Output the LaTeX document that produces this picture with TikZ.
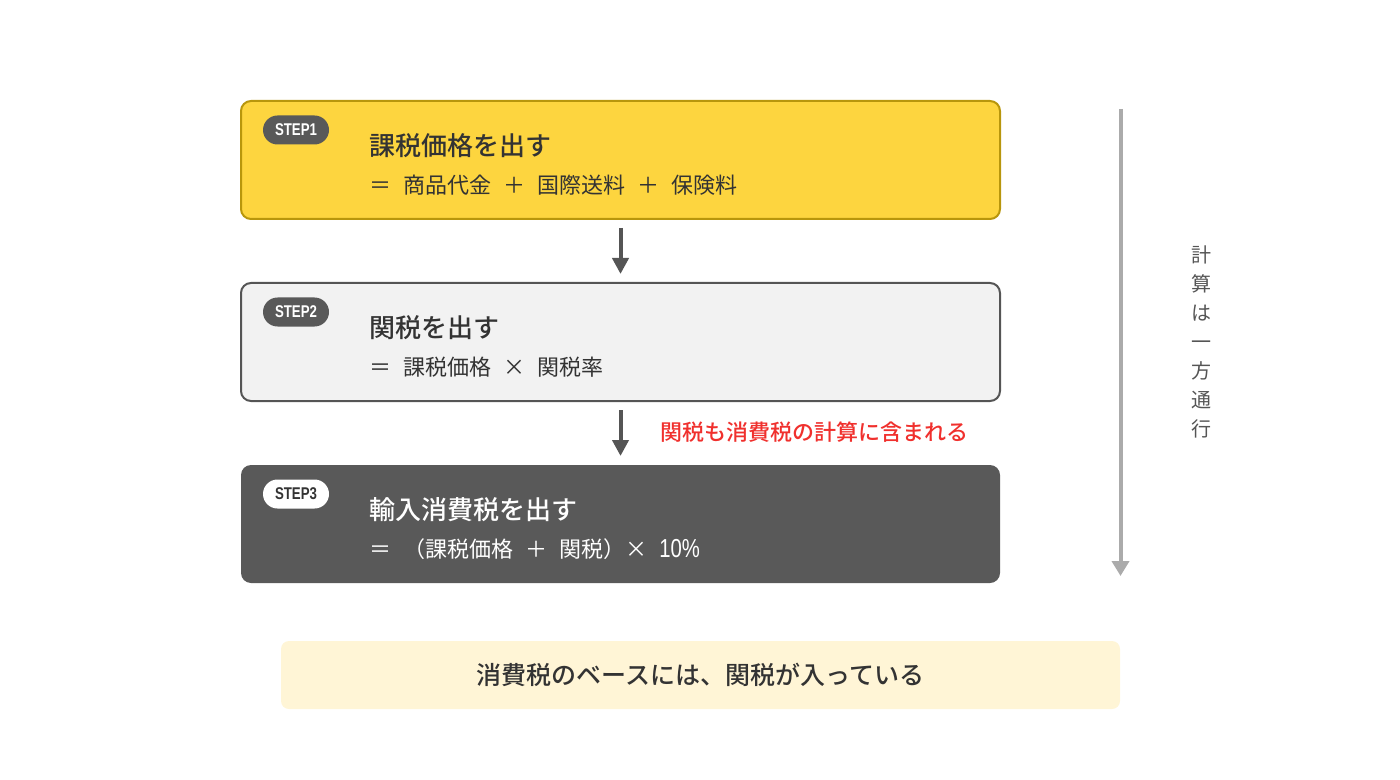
\documentclass[tikz,border=0pt]{standalone}
\usepackage{fontspec}
\setmainfont{Noto Sans CJK JP}[BoldFont={Noto Sans CJK JP Medium}]
\newfontfamily\stepfont[FakeStretch=0.78]{Liberation Sans}
\usetikzlibrary{arrows.meta}
\definecolor{stepyellow}{HTML}{FDD53F}
\definecolor{stepgold}{HTML}{B8960C}
\definecolor{steplight}{HTML}{F2F2F2}
\definecolor{stepdark}{HTML}{595959}
\definecolor{inkdark}{HTML}{333333}
\definecolor{arrowdark}{HTML}{555555}
\definecolor{arrowlight}{HTML}{ABABAB}
\definecolor{notered}{HTML}{F0302D}
\definecolor{basecream}{HTML}{FFF5D6}
\newcommand\widespace{\spaceskip 6pt\relax}
\tikzstyle{stepbox} = [rounded corners=5pt, minimum width=379.5pt,
    minimum height=59pt, line width=1pt, inner sep=0pt]
\tikzstyle{badge} = [rounded corners=7.25pt, minimum width=33pt,
    minimum height=14.5pt, inner sep=0pt, font=\stepfont\bfseries\fontsize{8.5}{8.5}\selectfont]
\tikzstyle{title} = [anchor=west, inner sep=0pt, font=\bfseries\fontsize{13}{13}\selectfont]
\tikzstyle{formula} = [anchor=west, inner sep=0pt,
    font=\fontsize{11}{11}\selectfont\widespace]
\tikzstyle{flow} = [draw=arrowdark, line width=2pt, -{Triangle[width=8pt,length=8pt]}]

\begin{document}
\begin{tikzpicture}[x=0.5pt, y=-0.5pt]
    \useasboundingbox (0,0) rectangle (1400,780);

    \node (step1) at (620.5,160) [stepbox, draw=stepgold, fill=stepyellow] {};
    \node (step2) at (620.5,342) [stepbox, draw=arrowdark, fill=steplight] {};
    \node (step3) at (620.5,524) [stepbox, fill=stepdark] {};

    % badges, titles and formulas, measured from each box corner
    \path (step1.north west)+(56,30) node (badge1) [badge, fill=stepdark, text=white] {STEP1};
    \path (step1.north west)+(129,46) node (title1) [title, text=inkdark] {課税価格を出す};
    \path (step1.north west)+(129,85) node (formula1) [formula, text=inkdark] {＝ 商品代金 ＋ 国際送料 ＋ 保険料};

    \path (step2.north west)+(56,30) node (badge2) [badge, fill=stepdark, text=white] {STEP2};
    \path (step2.north west)+(129,46) node (title2) [title, text=inkdark] {関税を出す};
    \path (step2.north west)+(129,85) node (formula2) [formula, text=inkdark] {＝ 課税価格 × 関税率};

    \path (step3.north west)+(56,30) node (badge3) [badge, fill=white, text=inkdark] {STEP3};
    \path (step3.north west)+(129,46) node (title3) [title, text=white] {輸入消費税を出す};
    \path (step3.north west)+(129,85) node (formula3) [formula, text=white] {＝ （課税価格 ＋ 関税）× {\stepfont\fontsize{13}{13}\selectfont 10\%}};

    \draw [flow] ([yshift=-4pt]step1.south) -- ([yshift=4pt]step2.north);
    \draw [flow] ([yshift=-4pt]step2.south) -- ([yshift=4pt]step3.north);

    \path (step2.south)+(40,30) node (note) [anchor=west, inner sep=0pt, text=notered,
        font=\bfseries\fontsize{11}{11}\selectfont] {関税も消費税の計算に含まれる};

    % one-way arrow on the right
    \path (step1.north east)+(119.5,9) coordinate (oneway top);
    \path (step3.south east)+(119.5,-8) coordinate (oneway end);
    \draw [draw=arrowlight, line width=2pt, -{Triangle[width=8.5pt,length=7.5pt]}]
        (oneway top) -- (oneway end);
    \path (step2.east)+(200,0) node (oneway) [align=center, inner sep=0pt, text=arrowdark,
        font=\fontsize{10}{14.5}\selectfont] {計\\算\\は\\一\\方\\通\\行};

    \path (step3.south)+(80,91) node (base) [rounded corners=4pt, fill=basecream,
        minimum width=419.5pt, minimum height=34pt, text=inkdark,
        font=\bfseries\fontsize{12.5}{12.5}\selectfont] {消費税のベースには、関税が入っている};
\end{tikzpicture}
\end{document}
